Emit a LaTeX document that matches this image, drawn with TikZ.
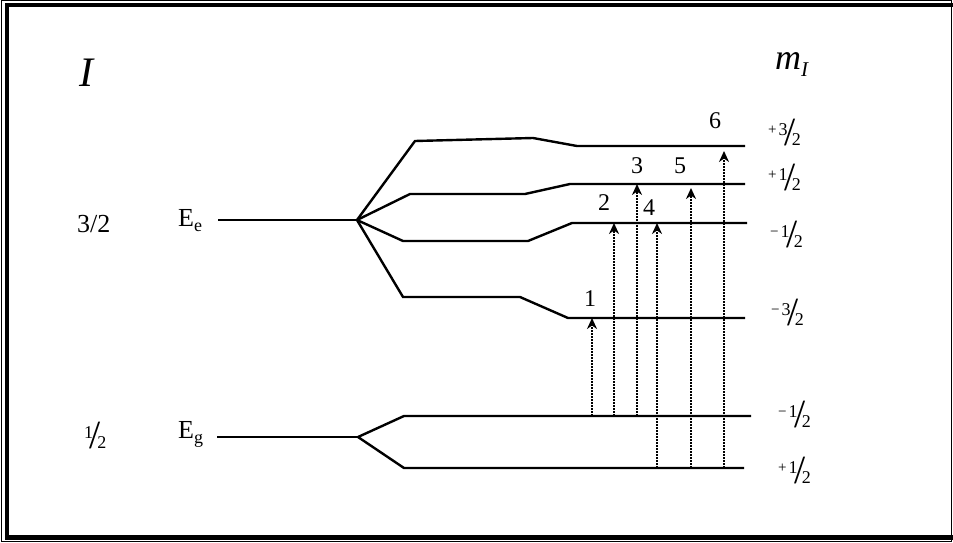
\documentclass[tikz,border=0pt]{standalone}
\usepackage{fontspec}
\setmainfont{Liberation Serif}
\usetikzlibrary{arrows.meta, positioning, calc}

% slanted fraction and m_I labels
\newcommand{\vfr}[2]{\raisebox{10pt}{\fontsize{18}{18}\selectfont #1}\kern-3.5pt\raisebox{-0.5pt}{\fontsize{40}{40}\selectfont /}\kern-3.5pt{\fontsize{18}{18}\selectfont #2}}
\newcommand{\mlab}[3]{\raisebox{11pt}{\fontsize{15}{15}\selectfont #1}\kern2pt\vfr{#2}{#3}}
\newcommand{\lsub}[1]{\raisebox{-5pt}{\fontsize{18}{18}\selectfont #1}}

\tikzset{
  level/.style={line width=2.4pt, line join=miter},
  trans/.style={line width=1.8pt, dash pattern=on 1.6pt off 1.4pt, -{Stealth[length=11pt, width=10pt, inset=3.5pt]}},
  lab/.style={inner sep=0pt, anchor=base west, font=\fontsize{26}{26}\selectfont},
  num/.style={inner sep=0pt, font=\fontsize{24}{24}\selectfont},
  mlev/.style={inner sep=0pt, anchor=base west}
}

\begin{document}
\begin{tikzpicture}[x=1pt, y=-1pt]
  \useasboundingbox (0,0) rectangle (953,543);
  \clip (0,0) rectangle (953,543);

  % frame
  \draw[line width=1pt] (1.5,0.7) rectangle (951.5,541.8);
  \draw[line width=4.6pt] (6.8,5) rectangle (958,537.3);

  % titles
  \node[inner sep=0pt, anchor=base west, font=\fontsize{42}{42}\selectfont\itshape] (spin) at (79,87) {I};
  \node[inner sep=0pt, anchor=base west, font=\fontsize{36}{36}\selectfont\itshape] (mI) at (775,70) {m\raisebox{-7pt}{\fontsize{21}{21}\selectfont I}};

  % excited state
  \node[lab] (je) at (77,232) {3/2};
  \node[lab] (Ee) at (178,226) {E\lsub{e}};
  \coordinate (ee0) at (218,220);
  \coordinate (fe) at (357,220);
  \coordinate (e3) at (745,146);
  \coordinate (e1) at (745,184);
  \coordinate (em1) at (747,223);
  \coordinate (em3) at (745,318);
  \draw[level] (ee0) -- (fe);
  \draw[level] (fe) -- (415,141) -- (533,138) -- (577,146) -- (e3);
  \draw[level] (fe) -- (410,194) -- (525,194) -- (570,184) -- (e1);
  \draw[level] (fe) -- (403,241) -- (528,241) -- (572,223) -- (em1);
  \draw[level] (fe) -- (403,297) -- (520,297) -- (568,318) -- (em3);

  % ground state
  \node[lab] (jg) at (84,448) {\vfr{1}{2}};
  \node[lab] (Eg) at (178,438) {E\lsub{g}};
  \coordinate (eg0) at (217,437);
  \coordinate (fg) at (358,437);
  \coordinate (gm) at (751,416);
  \coordinate (gp) at (744,468);
  \draw[level] (eg0) -- (fg);
  \draw[level] (fg) -- (404,416) -- (gm);
  \draw[level] (fg) -- (404,468) -- (gp);

  % m_I values
  \node[mlev] (le3) at (768,145) {\mlab{+}{3}{2}};
  \node[mlev] (le1) at (768,190) {\mlab{+}{1}{2}};
  \node[mlev] (lem1) at (770,247) {\mlab{−}{1}{2}};
  \node[mlev] (lem3) at (771,325) {\mlab{−}{3}{2}};
  \node[mlev] (lgm) at (778,427) {\mlab{−}{1}{2}};
  \node[mlev] (lgp) at (778,483) {\mlab{+}{1}{2}};

  % transitions
  \foreach \x/\lo/\up/\gap in {592/gm/em3/0pt, 614/gm/em1/0pt, 637/gm/e1/0pt, 657/gp/em1/0pt, 691/gp/e1/4pt, 724/gp/e3/5pt}
    \draw[trans, shorten >=\gap] (\x,0 |- \lo) -- (\x,0 |- \up);
  \foreach \n/\p in {1/{590,299}, 2/{604,203}, 3/{637,165.5}, 4/{649,208}, 5/{680,165.5}, 6/{715,120.5}}
    \node[num] (n\n) at (\p) {\n};
\end{tikzpicture}
\end{document}
